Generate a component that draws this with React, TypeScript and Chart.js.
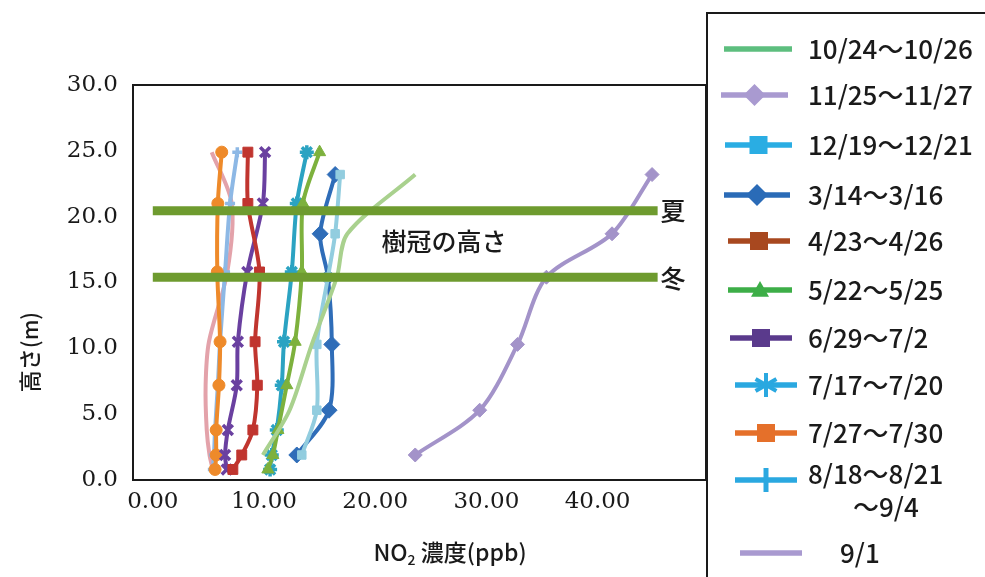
import React, { useEffect, useRef } from "react";
import { Chart, registerables } from "chart.js";
Chart.register(...registerables);

// ---------- data ----------
const seriesLabels = [
  "10/24～10/26",
  "11/25～11/27",
  "12/19～12/21",
  "3/14～3/16",
  "4/23～4/26",
  "5/22～5/25",
  "6/29～7/2",
  "7/17～7/20",
  "7/27～7/30",
  "8/18～8/21|～9/4",
  "9/1",
];

// heights (m)
const heightsAutumn = [1.9, 5.3, 10.3, 15.4, 18.7, 23.2];
const heightsSummer = [0.8, 1.9, 3.8, 7.2, 10.5, 15.8, 21.0, 24.9];

// NO2 (ppb)
const no2_1024 = [9.9, 12.3, 14.3, 16.55, 17.5, 23.6];
const no2_1125 = [23.6, 29.4, 32.8, 35.4, 41.3, 44.9];
const no2_1219 = [13.4, 14.75, 14.75, 15.75, 16.4, 16.85];
const no2_0314 = [12.95, 15.85, 16.1, 15.75, 15.05, 16.4];
const no2_0423 = [7.2, 8.0, 9.0, 9.4, 9.2, 9.6, 8.55, 8.55];
const no2_0522 = [10.35, 10.8, 11.25, 12.05, 12.8, 13.4, 13.5, 15.0];
const no2_0629 = [6.65, 6.5, 6.75, 7.55, 7.65, 8.5, 9.9, 10.1];
const no2_0717 = [10.55, 10.7, 11.15, 11.6, 11.8, 12.5, 12.95, 13.85];
const no2_0727 = [5.6, 5.7, 5.7, 5.95, 6.05, 5.8, 5.85, 6.2];
const no2_0818 = [5.4, 5.5, 5.6, 5.85, 6.05, 6.5, 6.95, 7.6];
const no2_0901 = [5.4, 5.1, 4.85, 4.75, 5.05, 6.7, 7.1, 5.3];

// canopy height reference lines
const canopyX = [0, 45.4];
const canopySummer = 20.45;
const canopyWinter = 15.4;

const xTickValues = [0, 10, 20, 30, 40];
const yTickValues = [0, 5, 10, 15, 20, 25, 30];

const seriesX = [no2_1024, no2_1125, no2_1219, no2_0314, no2_0423, no2_0522, no2_0629, no2_0717, no2_0727, no2_0818, no2_0901];
const seriesY = [heightsAutumn, heightsAutumn, heightsAutumn, heightsAutumn, heightsSummer, heightsSummer, heightsSummer, heightsSummer, heightsSummer, heightsSummer, heightsSummer];

// ---------- styles ----------
const SANS = '"Noto Sans CJK JP", "Noto Sans", sans-serif';
const SERIF = '"DejaVu Serif", "Liberation Serif", serif';

type St = { plot: string; legend: string; pt: string | false; r: number; lpt: string | false };
const styles: St[] = [
  { plot: "#A9D18E", legend: "#5DBE7E", pt: false, r: 0, lpt: false },
  { plot: "#A393C9", legend: "#A99AD0", pt: "rectRot", r: 7, lpt: "rectRot" },
  { plot: "#92CDDF", legend: "#2AADE3", pt: "rect", r: 6, lpt: "rect" },
  { plot: "#2F6DB8", legend: "#2A6BB7", pt: "rectRot", r: 8, lpt: "rectRot" },
  { plot: "#C0352F", legend: "#A8481F", pt: "rect", r: 7, lpt: "rect" },
  { plot: "#7DB13D", legend: "#3DAE47", pt: "triangle", r: 7, lpt: "triangle" },
  { plot: "#6A40A0", legend: "#5A3A8C", pt: "crossRot", r: 7, lpt: "rect" },
  { plot: "#2BA3C2", legend: "#2AA8E0", pt: "star", r: 7, lpt: "star" },
  { plot: "#EE8A2A", legend: "#E5702A", pt: "circle", r: 6, lpt: "rect" },
  { plot: "#8DB8E5", legend: "#2AA8E0", pt: "cross", r: 5, lpt: "cross" },
  { plot: "#E3A2AA", legend: "#A99AD0", pt: false, r: 0, lpt: false },
];
const bandColor = "#6E9B2F";
const textColor = "#1a1a1a";

// legend layout
const legendRowsY = [49, 95, 145, 195, 241, 290, 338, 385, 433, 480, 553];
const legendLineX = [
  [724, 792], [721, 788], [725, 792], [724, 790], [728, 790], [728, 792],
  [730, 792], [735, 797], [735, 797], [735, 797], [740, 802],
];
const legendTextX = [808, 808, 808, 808, 808, 808, 808, 808, 808, 808, 840];

function drawMarker(ctx: CanvasRenderingContext2D, style: string, x: number, y: number, r: number, color: string) {
  ctx.save();
  ctx.fillStyle = color;
  ctx.strokeStyle = color;
  ctx.beginPath();
  if (style === "rectRot") {
    ctx.moveTo(x, y - r); ctx.lineTo(x + r, y); ctx.lineTo(x, y + r); ctx.lineTo(x - r, y); ctx.closePath(); ctx.fill();
  } else if (style === "rect") {
    ctx.fillRect(x - r, y - r, 2 * r, 2 * r);
  } else if (style === "triangle") {
    ctx.moveTo(x, y - r); ctx.lineTo(x + r, y + r * 0.75); ctx.lineTo(x - r, y + r * 0.75); ctx.closePath(); ctx.fill();
  } else if (style === "star") {
    ctx.lineWidth = 4;
    ctx.moveTo(x, y - r); ctx.lineTo(x, y + r);
    ctx.moveTo(x - r * 0.87, y - r * 0.5); ctx.lineTo(x + r * 0.87, y + r * 0.5);
    ctx.moveTo(x - r * 0.87, y + r * 0.5); ctx.lineTo(x + r * 0.87, y - r * 0.5);
    ctx.stroke();
  } else if (style === "cross") {
    ctx.lineWidth = 5;
    ctx.moveTo(x, y - r); ctx.lineTo(x, y + r);
    ctx.stroke();
  }
  ctx.restore();
}

const overlayPlugin = {
  id: "overlay",
  afterDatasetsDraw(chart: any) {
    const { ctx, chartArea: a } = chart;
    ctx.save();
    ctx.strokeStyle = textColor;
    ctx.lineWidth = 2;
    ctx.strokeRect(a.left, a.top, a.right - a.left, a.bottom - a.top);
    ctx.restore();
  },
  afterDraw(chart: any) {
    const { ctx } = chart;
    ctx.save();
    ctx.fillStyle = textColor;
    ctx.textBaseline = "middle";
    // annotations
    ctx.font = `500 25px ${SANS}`;
    ctx.textAlign = "center";
    ctx.fillText("樹冠の高さ", 444, 241);
    ctx.fillText("夏", 673, 210);
    ctx.fillText("冬", 673, 278);

    // y title
    ctx.save();
    ctx.translate(30, 352);
    ctx.rotate(-Math.PI / 2);
    ctx.font = `500 22px ${SANS}`;
    ctx.fillText("高さ(m)", 0, 0);
    ctx.restore();

    // x title NO2 濃度(ppb)
    const big = `500 23px ${SANS}`;
    const small = `500 14px ${SANS}`;
    ctx.font = big;
    const p1 = "NO";
    const p3 = " 濃度(ppb)";
    const w1 = ctx.measureText(p1).width;
    const w3 = ctx.measureText(p3).width;
    ctx.font = small;
    const w2 = ctx.measureText("2").width;
    const total = w1 + w2 + w3;
    const x0 = 450 - total / 2;
    ctx.textAlign = "left";
    ctx.font = big;
    ctx.fillText(p1, x0, 552);
    ctx.font = small;
    ctx.fillText("2", x0 + w1, 560);
    ctx.font = big;
    ctx.fillText(p3, x0 + w1 + w2, 552);

    // legend box
    ctx.fillStyle = "#ffffff";
    ctx.fillRect(707, 13, 300, 600);
    ctx.strokeStyle = textColor;
    ctx.lineWidth = 2;
    ctx.strokeRect(707, 13, 300, 600);

    seriesLabels.forEach((lab, i) => {
      const st = styles[i];
      const y = legendRowsY[i];
      const [lx0, lx1] = legendLineX[i];
      ctx.strokeStyle = st.legend;
      ctx.lineWidth = 5.5;
      ctx.beginPath();
      ctx.moveTo(lx0, y);
      ctx.lineTo(lx1, y);
      ctx.stroke();
      if (st.lpt) {
        const r = st.lpt === "star" || st.lpt === "cross" ? 12 : st.lpt === "rectRot" ? 11 : 9;
        drawMarker(ctx, st.lpt as string, (lx0 + lx1) / 2, y, r, st.legend);
      }
      ctx.fillStyle = textColor;
      ctx.font = `500 26px ${SANS}`;
      ctx.textAlign = "left";
      const parts = lab.split("|");
      if (parts.length === 1) {
        ctx.fillText(parts[0], legendTextX[i], y);
      } else {
        ctx.fillText(parts[0], legendTextX[i], y - 6);
        ctx.fillText(parts[1], 853, y + 27);
      }
    });
    ctx.restore();
  },
};

export default function App() {
  const ref = useRef<HTMLCanvasElement | null>(null);
  useEffect(() => {
    if (!ref.current) return;
    const bands = [canopySummer, canopyWinter].map((h) => ({
      label: "",
      data: canopyX.map((x) => ({ x, y: h })),
      borderColor: bandColor,
      borderWidth: 9,
      borderCapStyle: "butt" as const,
      pointRadius: 0,
      tension: 0,
    }));
    const series = seriesLabels.map((lab, i) => {
      const st = styles[i];
      return {
        label: lab,
        data: seriesX[i].map((x, k) => ({ x, y: seriesY[i][k] })),
        borderColor: st.plot,
        backgroundColor: st.plot,
        borderWidth: 4,
        pointStyle: st.pt || "circle",
        pointRadius: st.pt ? st.r : 0,
        pointBorderWidth: st.pt === "star" || st.pt === "cross" || st.pt === "crossRot" ? 3.5 : 1,
        pointBackgroundColor: st.plot,
        pointBorderColor: st.plot,
        tension: 0.3,
      };
    });
    const chart = new Chart(ref.current, {
      type: "line",
      data: { datasets: [...bands, ...series] as any },
      plugins: [overlayPlugin],
      options: {
        animation: false,
        responsive: false,
        layout: { padding: { left: 0, top: 85, right: 279, bottom: 0 } },
        plugins: { legend: { display: false }, tooltip: { enabled: false } },
        scales: {
          x: {
            type: "linear",
            min: -1.78,
            max: 49.75,
            afterFit: (s: any) => { s.height = 97; },
            afterBuildTicks: (s: any) => { s.ticks = xTickValues.map((v) => ({ value: v })); },
            grid: { display: false, drawTicks: false },
            border: { display: false },
            ticks: {
              padding: 8,
              color: textColor,
              font: { family: SERIF, size: 23 },
              callback: (v: any) => Number(v).toFixed(2),
            },
          },
          y: {
            type: "linear",
            min: 0,
            max: 30,
            afterFit: (s: any) => { s.width = 133; },
            afterBuildTicks: (s: any) => { s.ticks = yTickValues.map((v) => ({ value: v })); },
            grid: { display: false, drawTicks: false },
            border: { display: false },
            ticks: {
              padding: 15,
              color: textColor,
              font: { family: SERIF, size: 23 },
              callback: (v: any) => Number(v).toFixed(1),
            },
          },
        },
      },
    });
    return () => chart.destroy();
  }, []);
  return (
    <div style={{ position: "absolute", left: 0, top: 0, width: 985, height: 577, background: "#fff" }}>
      <canvas ref={ref} width={985} height={577} style={{ width: 985, height: 577, display: "block" }} />
    </div>
  );
}
